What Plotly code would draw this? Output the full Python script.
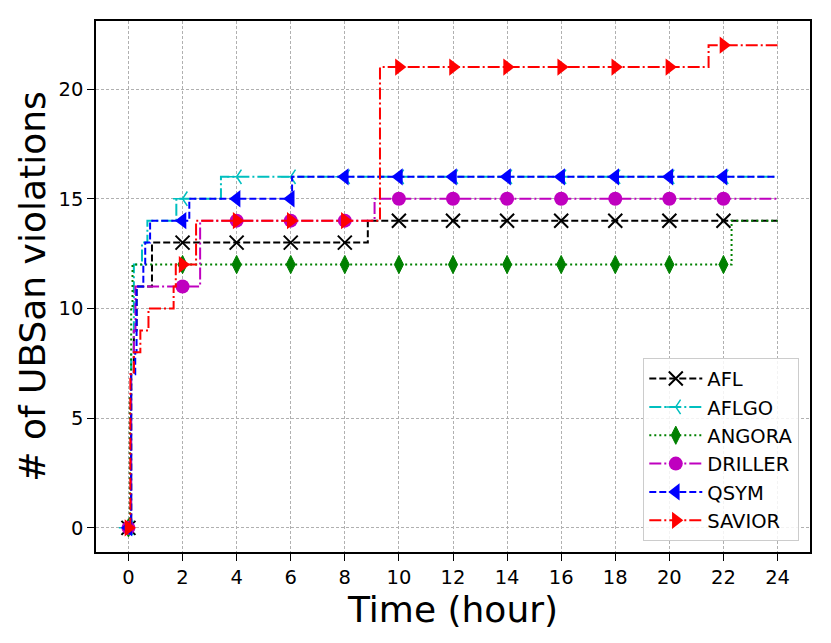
import numpy as np
import plotly.graph_objects as go

# ── Data (hours at which the count steps up, and the new count) ─────
TOOLS = ["AFL", "AFLGO", "ANGORA", "DRILLER", "QSYM", "SAVIOR"]

afl_t     = [0, 0.1, 0.2, 0.3, 0.87, 8.85]
afl_v     = [0, 7, 9, 11, 13, 14]
aflgo_t   = [0, 0.1, 0.2, 0.5, 0.7, 1.77, 3.42]
aflgo_v   = [0, 8, 12, 13, 14, 15, 16]
angora_t  = [0, 0.05, 0.1, 0.15, 22.3]
angora_v  = [0, 6, 10, 12, 14]
driller_t = [0, 0.1, 0.2, 0.26, 2.65, 9.1]
driller_v = [0, 7, 9, 11, 14, 15]
qsym_t    = [0, 0.1, 0.25, 0.3, 0.55, 0.62, 0.8, 2.25, 6.05]
qsym_v    = [0, 7, 8, 11, 12, 13, 14, 15, 16]
savior_t  = [0, 0.07, 0.2, 0.44, 0.74, 1.67, 1.75, 2.5, 9.3, 21.45]
savior_v  = [0, 7, 8, 9, 10, 11, 12, 14, 21, 22]

END_HOUR   = 24
MARK_HOURS = list(range(0, 24, 2))
X_TICKS    = list(range(0, 26, 2))
Y_TICKS    = [0, 5, 10, 15, 20]

series = {
    "AFL": (afl_t, afl_v),
    "AFLGO": (aflgo_t, aflgo_v),
    "ANGORA": (angora_t, angora_v),
    "DRILLER": (driller_t, driller_v),
    "QSYM": (qsym_t, qsym_v),
    "SAVIOR": (savior_t, savior_v),
}

# ── Styles (matplotlib-like colours / dashes / markers) ─────────────
styles = {
    "AFL":     dict(color="#000000", dash="7px,3px",           symbol="x-thin",         size=14, mlw=2),
    "AFLGO":   dict(color="#00BFBF", dash="12px,3px,2px,3px",  symbol="y-left",         size=12, mlw=1.5),
    "ANGORA":  dict(color="#008000", dash="2px,3px",           symbol="diamond-tall",   size=13, mlw=1),
    "DRILLER": dict(color="#BF00BF", dash="12px,3px,2px,3px",  symbol="circle",         size=14, mlw=0),
    "QSYM":    dict(color="#0000FF", dash="7px,3px",           symbol="triangle-left",  size=15, mlw=0),
    "SAVIOR":  dict(color="#FF0000", dash="12px,3px,2px,3px",  symbol="triangle-right", size=15, mlw=0),
}


def step_samples(times, vals):
    times = np.asarray(times, dtype=float)
    vals = np.asarray(vals, dtype=float)
    xs = np.union1d(times, np.array(MARK_HOURS + [END_HOUR], dtype=float))
    idx = np.searchsorted(times, xs, side="right") - 1
    return xs, vals[idx]


fig = go.Figure()

# ── Step lines with markers every 2 hours ───────────────────────────
for name in TOOLS:
    t, v = series[name]
    st = styles[name]
    xs, ys = step_samples(t, v)
    sizes = [st["size"] if x in MARK_HOURS else 0 for x in xs]
    fig.add_trace(go.Scatter(
        x=xs, y=ys, name=name, legendgroup=name, showlegend=False,
        mode="lines+markers",
        line=dict(color=st["color"], width=2, dash=st["dash"], shape="hv"),
        marker=dict(symbol=st["symbol"], size=sizes, color=st["color"], opacity=1,
                    line=dict(color=st["color"], width=st["mlw"])),
    ))

# ── Legend entries (line + marker sample) ───────────────────────────
for name in TOOLS:
    st = styles[name]
    fig.add_trace(go.Scatter(
        x=[None], y=[None], name=name, legendgroup=name,
        mode="lines+markers",
        line=dict(color=st["color"], width=2, dash=st["dash"]),
        marker=dict(symbol=st["symbol"], size=st["size"], color=st["color"], opacity=1,
                    line=dict(color=st["color"], width=st["mlw"])),
    ))

axis_common = dict(
    showline=True, linecolor="black", linewidth=1.5, mirror=True,
    ticks="outside", ticklen=7, tickwidth=1.3, tickcolor="black",
    showgrid=True, gridcolor="#b0b0b0", gridwidth=1, griddash="3px,2px",
    zeroline=False, automargin=False,
    tickfont=dict(family="DejaVu Sans", size=19.5, color="black"),
)

fig.update_xaxes(
    range=[-1.2, 25.2], tickvals=X_TICKS,
    title=dict(text="Time (hour)", font=dict(family="DejaVu Sans", size=36, color="black"), standoff=8),
    **axis_common,
)
fig.update_yaxes(
    range=[-1.1, 23.1], tickvals=Y_TICKS,
    title=dict(text="# of UBSan violations", font=dict(family="DejaVu Sans", size=36, color="black"), standoff=2),
    **axis_common,
)

# page body adds ~8px offset, so margins are shifted up/left to compensate
fig.update_layout(
    width=831, height=643,
    margin=dict(l=88, r=29, t=13, b=99),
    paper_bgcolor="white", plot_bgcolor="white",
    font=dict(family="DejaVu Sans", color="black"),
    showlegend=True,
    legend=dict(
        x=0.985, y=0.02, xanchor="right", yanchor="bottom",
        bgcolor="rgba(255,255,255,0.85)", bordercolor="#cccccc", borderwidth=1,
        font=dict(family="DejaVu Sans", size=19.5, color="black"),
        tracegroupgap=0, itemwidth=53,
    ),
)

fig.write_html("out.html")
